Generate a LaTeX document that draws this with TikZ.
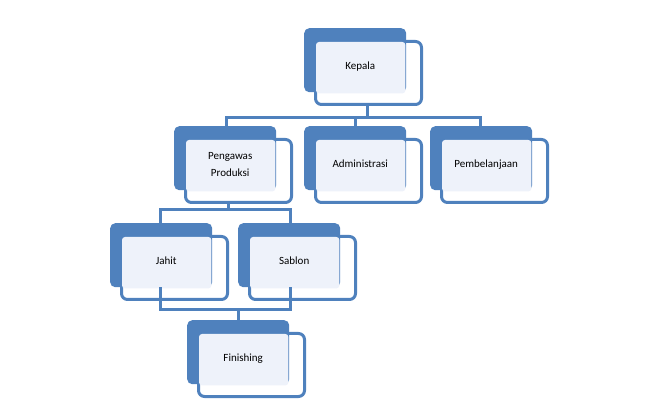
\documentclass[tikz,border=0pt]{standalone}
\usepackage{fontspec}
\setmainfont{Carlito}
\usetikzlibrary{positioning,calc}
\definecolor{chart}{HTML}{4F81BD}
\definecolor{pale}{HTML}{EEF2FA}
\newcommand{\orgbox}[4]{%
  % back card, pale overlap, front card
  \node[back] (#1-b) at (#2,#3) {};
  \node[front] (#1) at ($(#1-b.north west)+(10,12)$) {};
  \fill[pale, rounded corners=3pt] ($(#1.north west)+(2,2)$) rectangle ($(#1-b.south east)+(-1,1)$);
  \node[cardtext] (#1-t) at ($(#1.north west)!0.5!(#1-b.south east)$) {#4};
}
\begin{document}
\begin{tikzpicture}[x=1pt,y=-1pt]
  \tikzset{
    back/.style={anchor=north west, fill=chart, rounded corners=5pt,
      minimum width=102pt, minimum height=64pt, inner sep=0pt},
    front/.style={anchor=north west, draw=chart, line width=3pt, rounded corners=6pt,
      minimum width=106pt, minimum height=63pt, inner sep=0pt},
    cardtext/.style={font=\fontsize{11}{17}\selectfont, align=center, text=black},
    link/.style={draw=chart, line width=3pt},
  }
  \useasboundingbox (0,0) rectangle (669,419);
  % the cards
  \orgbox{kepala}{304}{28}{Kepala}
  \orgbox{pengawas}{174}{126}{Pengawas\\Produksi}
  \orgbox{admin}{304}{126}{Administrasi}
  \orgbox{beli}{430}{126}{Pembelanjaan}
  \orgbox{jahit}{110}{223}{Jahit}
  \orgbox{sablon}{238}{223}{Sablon}
  \orgbox{finish}{187}{320}{Finishing}
  % connectors
  \coordinate (k-j) at (367,118);
  \coordinate (k-l) at (226,118);
  \coordinate (k-m) at (355,118);
  \coordinate (k-r) at (480,118);
  \draw[link] (kepala.south -| k-j) -- (k-j);
  \draw[link] (pengawas-b.north -| k-l) -- (k-l) -- (k-r) -- (beli-b.north -| k-r);
  \draw[link] (k-m) -- (admin-b.north -| k-m);
  \coordinate (p-j) at (228,210);
  \coordinate (p-l) at (160,210);
  \coordinate (p-r) at (290,210);
  \draw[link] (pengawas.south -| p-j) -- (p-j);
  \draw[link] (jahit-b.north -| p-l) -- (p-l) -- (p-r) -- (sablon-b.north -| p-r);
  \coordinate (f-j) at (238,310);
  \coordinate (f-l) at (160,310);
  \coordinate (f-r) at (290,310);
  \draw[link] (jahit-b.south -| f-l) -- (f-l) -- (f-r) -- (sablon-b.south -| f-r);
  \draw[link] (f-j) -- (finish-b.north -| f-j);
\end{tikzpicture}
\end{document}
